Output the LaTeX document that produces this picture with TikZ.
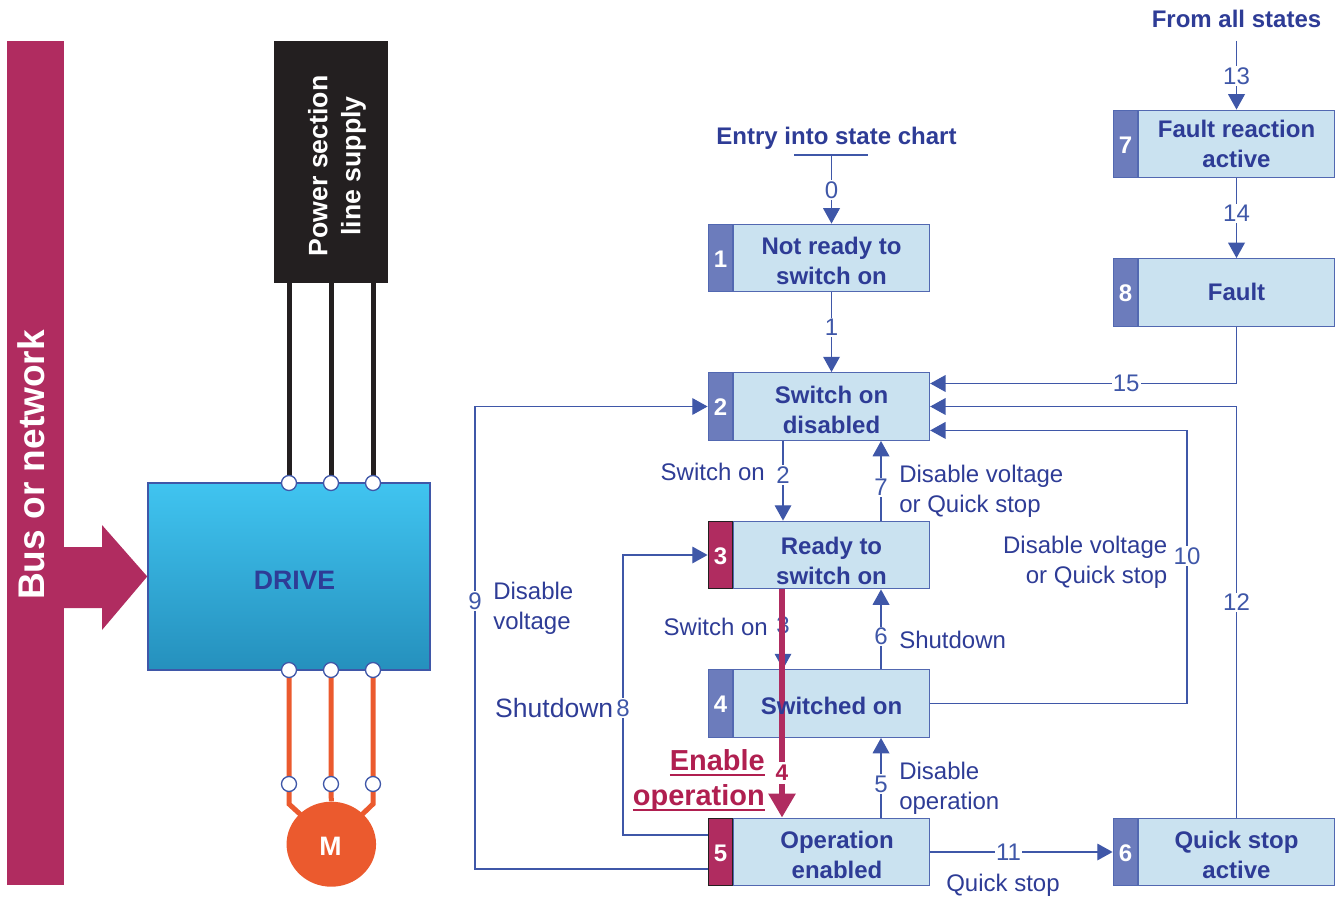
\documentclass[tikz,border=0pt]{standalone}
\usepackage{fontspec}
\setmainfont{Liberation Sans}
\usetikzlibrary{calc,arrows.meta,shapes.geometric}
\definecolor{crim}{HTML}{B02C60}
\definecolor{crimtxt}{HTML}{B01F50}
\definecolor{linec}{HTML}{3F57A8}
\definecolor{textc}{HTML}{2E3C96}
\definecolor{bodyc}{HTML}{CAE2F0}
\definecolor{tabc}{HTML}{6C7CBC}
\definecolor{orangec}{HTML}{EB5A2E}
\definecolor{blackc}{HTML}{231F20}
\definecolor{drivetop}{HTML}{40C4F0}
\definecolor{drivebot}{HTML}{2590BD}
\newcommand\thickul[1]{\ooalign{#1\cr\leaders\hrule height -3pt depth 4.4pt\hfill\cr}}
\tikzset{
 x=.75pt,y=-.75pt,
 statebox/.style={draw=linec!90,fill=bodyc,line width=1pt,minimum width=196*.75pt,minimum height=67.5*.75pt,inner sep=0pt},
 statetxt/.style={text=textc,align=center,inner sep=0pt,font=\fontsize{18}{22.5}\selectfont\bfseries},
 tabbase/.style={minimum width=24.5*.75pt,minimum height=67.5*.75pt,inner sep=0pt,text=white,line width=1pt,text height=14pt,text depth=0pt,font=\fontsize{18}{22}\selectfont\bfseries},
 tabblue/.style={tabbase,fill=tabc,draw=linec!90},
 tabred/.style={tabbase,fill=crim,draw=blackc},
 conn/.style={draw=linec,line width=1pt,-{Triangle[width=12.5pt,length=11.5pt]}},
 plainline/.style={draw=linec,line width=1pt},
 lab/.style={fill=white,text=linec,inner sep=1pt,font=\fontsize{18}{20}\selectfont},
 note/.style={text=textc,inner sep=0pt,align=left,font=\fontsize{18}{22.3}\selectfont},
 title/.style={text=textc,inner sep=0pt,font=\fontsize{18}{22}\selectfont\bfseries},
 term/.style={circle,draw=linec,fill=white,line width=1pt,minimum size=15*.75pt,inner sep=0pt},
 wireb/.style={draw=blackc,line width=3.75pt},
 wireo/.style={draw=orangec,line width=3.75pt},
}
\begin{document}
\begin{tikzpicture}
\useasboundingbox (0,0) rectangle (1341,898);
% --- left part
\node[fill=crim,minimum width=57*.75pt,minimum height=844*.75pt,inner sep=0pt] (bus) at (35.5,463) {};
\node[rotate=90,text=white,inner sep=0pt,font=\fontsize{27.8}{30}\selectfont\bfseries] (bustxt) at (31.5,465) {Bus or network};
\node[draw=linec,line width=1.1pt,minimum width=282*.75pt,minimum height=187*.75pt,inner sep=0pt,top color=drivetop,bottom color=drivebot] (drive) at (289,576.5) {};
\node[text=textc,inner sep=0pt,font=\fontsize{20}{24}\selectfont\bfseries] (drivetxt) at (294.5,580) {DRIVE};
\fill[crim] (60,547) -- (102,547) -- (102,525) -- (drive.west) -- (102,630) -- (102,608) -- (60,608) -- cycle;
\node[fill=blackc,minimum width=114*.75pt,minimum height=242*.75pt,inner sep=0pt] (power) at (331,162) {};
\node[rotate=90,text=white,align=center,inner sep=0pt,font=\fontsize{20}{24.7}\selectfont\bfseries] (powertxt) at (337,166) {Power section\\line supply};
\coordinate (da) at (289,483); \coordinate (db) at (331,483); \coordinate (dc) at (373,483);
\coordinate (ea) at (289,670); \coordinate (eb) at (331,670); \coordinate (ec) at (373,670);
\coordinate (ma) at (289,784); \coordinate (mb) at (331,784); \coordinate (mc) at (373,784);
\node[ellipse,fill=orangec,minimum width=89.5*.75pt,minimum height=85*.75pt,inner sep=0pt] (motor) at (331.3,844.2) {};
\node[text=white,inner sep=0pt,font=\fontsize{20}{24}\selectfont\bfseries] (motortxt) at (330.5,846) {M};
\draw[wireb] (da |- power.south) -- (da);
\draw[wireb] (db |- power.south) -- (db);
\draw[wireb] (dc |- power.south) -- (dc);
\draw[wireo] (ea) -- (ma) -- ++(0,20) -- ($(motor.center)+(-29,-28)$);
\draw[wireo] (eb) -- (mb) -- (motor.north);
\draw[wireo] (ec) -- (mc) -- ++(0,20) -- ($(motor.center)+(29,-28)$);
\foreach \n in {da,db,dc,ea,eb,ec,ma,mb,mc} \node[term] (T\n) at (\n) {};
% --- state boxes
\node[statebox] (s1) at (831.5,258) {};
\node[statebox] (s2) at (831.5,406.5) {};
\node[statebox] (s3) at (831.5,555) {};
\node[statebox] (s4) at (831.5,703.5) {};
\node[statebox] (s5) at (831.5,852) {};
\node[statebox] (s6) at (1236.5,852) {};
\node[statebox] (s7) at (1236.5,144) {};
\node[statebox] (s8) at (1236.5,292.5) {};
\node[tabblue] (t1) at (720.5,258) {1};
\node[tabblue] (t2) at (720.5,406.5) {2};
\node[tabred] (t3) at (720.5,555) {3};
\node[tabblue] (t4) at (720.5,703.5) {4};
\node[tabred] (t5) at (720.5,852) {5};
\node[tabblue] (t6) at (1125.5,852) {6};
\node[tabblue] (t7) at (1125.5,144) {7};
\node[tabblue] (t8) at (1125.5,292.5) {8};
% --- titles
\node[title] (entry) at (836.5,138) {Entry into state chart};
\node[title] (fromall) at (1236.5,19) {From all states};
\coordinate (tickL) at (794,155); \coordinate (tickR) at (868,155); \coordinate (tickM) at (831.5,155);
\coordinate (from13) at (1236.5,41);
\draw[plainline] (tickL) -- (tickR);
% --- connectors
\draw[conn] (tickM) -- node[lab,pos=.51]{0} (s1.north);
\draw[conn] (s1.south) -- node[lab,pos=.44]{1} (s2.north);
\draw[conn] ($(s2.south)+(-48.5,0)$) -- node[lab,pos=.43]{2} ($(s3.north)+(-48.5,0)$);
\draw[conn] ($(s3.north)+(49.5,0)$) -- node[lab,pos=.42]{7} ($(s2.south)+(49.5,0)$);
\draw[conn] ($(s3.south)+(-48.5,0)$) -- node[lab,pos=.45]{3} ($(s4.north)+(-48.5,0)$);
\draw[conn] ($(s4.north)+(49.5,0)$) -- node[lab,pos=.41]{6} ($(s3.south)+(49.5,0)$);
\draw[conn] ($(s5.north)+(49.5,0)$) -- node[lab,pos=.42]{5} ($(s4.south)+(49.5,0)$);
\draw[conn] (s5.east) -- node[lab,pos=.43]{11} (t6.west);
\draw[conn] (from13) -- node[lab,pos=.51]{13} (s7.north);
\draw[conn] (s7.south) -- node[lab,pos=.44]{14} (s8.north);
\draw[conn] (s8.south) |- node[lab,pos=.68]{15} ($(s2.east)+(0,-23)$);
\draw[conn] (s6.north) |- node[lab,pos=.2615]{12} (s2.east);
\coordinate (c10) at (1187,430.4);
\draw[conn] (s4.east) -| node[lab,pos=.77]{10} (c10) -- (s2.east |- c10);
\coordinate (c9) at (475,406.5);
\draw[conn] ($(t5.west)+(0,17)$) -| node[lab,pos=.79]{9} (c9) -- (t2.west);
\coordinate (c8) at (623,555);
\draw[conn] ($(t5.west)+(0,-17)$) -| node[lab,pos=.727]{8} (c8) -- (t3.west);
% --- highlighted transition 4
\coordinate (b4) at ($(s3.south)+(-49.5,0)$);
\coordinate (e4) at ($(s5.north)+(-49.5,0)$);
\draw[draw=crim,line width=4.4pt,-{Triangle[width=19.5pt,length=18pt]}] (b4) -- node[fill=white,inner xsep=1pt,inner ysep=2.5pt,pos=.803,text=crimtxt,font=\fontsize{17}{18}\selectfont\bfseries]{4} (e4);
% --- box texts
\node[statetxt] at ($(s1)+(0,3)$) {Not ready to\\switch on};
\node[statetxt] at ($(s2)+(0,3.5)$) {Switch on\\disabled};
\node[statetxt] at ($(s3)+(0,5.5)$) {Ready to\\switch on};
\node[statetxt] at ($(s4)+(0,2)$) {Switched on};
\node[statetxt] at ($(s5)+(5.5,3)$) {Operation\\enabled};
\node[statetxt] at ($(s6)+(0,3)$) {Quick stop\\active};
\node[statetxt] at (s7) {Fault reaction\\active};
\node[statetxt] at ($(s8)+(0,-.5)$) {Fault};
% --- annotations
\node[note,anchor=east] at (765,472) {Switch on};
\node[note,anchor=east] at (768,627) {Switch on};
\node[note,anchor=west] at (899,491) {Disable voltage\\or Quick stop};
\node[note,anchor=east,align=right] at (1167.5,562) {Disable voltage\\or Quick stop};
\node[note,anchor=west] at (899,640) {Shutdown};
\node[note,anchor=west] at (899,788) {Disable\\operation};
\node[note,anchor=west] at (493,608) {Disable\\voltage};
\node[note,anchor=east,font=\fontsize{19.9}{24}\selectfont] at (613.5,708) {Shutdown};
\node[note,anchor=west] at (946,885) {Quick stop};
\node[anchor=east,align=right,inner sep=0pt,text=crimtxt,font=\fontsize{21.7}{26.2}\selectfont\bfseries] at (765,780) {\thickul{Enable}\\\thickul{operation}};
\end{tikzpicture}
\end{document}
